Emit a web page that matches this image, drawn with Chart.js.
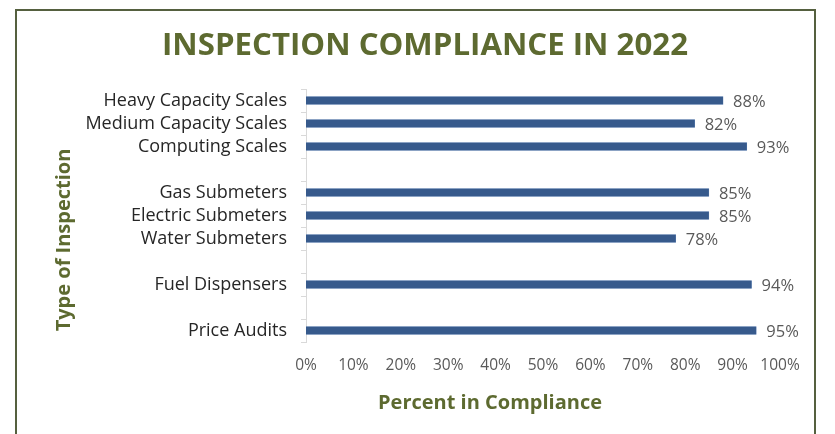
<!DOCTYPE html>
<html>
<head>
<meta charset="utf-8">
<script src="https://cdn.jsdelivr.net/npm/chart.js@4"></script>
<style>
  html, body { margin: 0; padding: 0; background: #fff; }
  #wrap { position: relative; width: 835px; height: 434px; overflow: hidden; }
  #frame { position: absolute; left: 15px; top: 9px; width: 801px; height: 440px; border: 2px solid #55603f; box-sizing: border-box; }
  canvas { position: absolute; left: 0; top: 0; }
</style>
</head>
<body>
<div id="wrap">
  <div id="frame"></div>
  <canvas id="chart" width="835" height="434"></canvas>
</div>
<script>
const categories = [
  "Heavy Capacity Scales",
  "Medium Capacity Scales",
  "Computing Scales",
  "",
  "Gas Submeters",
  "Electric Submeters",
  "Water Submeters",
  "",
  "Fuel Dispensers",
  "",
  "Price Audits",
];
const compliance = [88, 82, 93, null, 85, 85, 78, null, 94, null, 95];
const xTicks = [0, 10, 20, 30, 40, 50, 60, 70, 80, 90, 100];

const titleText = "INSPECTION COMPLIANCE IN 2022";
const xTitle = "Percent in Compliance";
const yTitle = "Type of Inspection";
const olive = "#5d6a30";

const textPlugin = {
  id: "texts",
  afterDatasetsDraw(chart) {
    const ctx = chart.ctx;
    const meta = chart.getDatasetMeta(0);
    ctx.save();
    ctx.fillStyle = "#595959";
    ctx.font = "16.5px 'Open Sans'";
    ctx.textAlign = "left";
    ctx.textBaseline = "middle";
    meta.data.forEach((bar, i) => {
      const v = compliance[i];
      if (v === null) return;
      ctx.fillText(v + "%", bar.x + 10, bar.y + 1.5);
    });

    ctx.fillStyle = olive;
    ctx.textAlign = "center";
    ctx.textBaseline = "middle";
    ctx.font = "bold 31px 'Liberation Sans Narrow', 'Open Sans'";
    const w = ctx.measureText(titleText).width;
    const target = 526;
    ctx.save();
    ctx.translate(425, 46);
    ctx.scale(target / w, 1);
    ctx.fillText(titleText, 0, 0);
    ctx.restore();

    ctx.font = "bold 20px 'Open Sans'";
    ctx.fillText(xTitle, 490, 403);
    ctx.save();
    ctx.translate(64, 240);
    ctx.rotate(-Math.PI / 2);
    ctx.fillText(yTitle, 0, 0);
    ctx.restore();
    ctx.restore();
  },
};

new Chart(document.getElementById("chart"), {
  type: "bar",
  data: {
    labels: categories,
    datasets: [
      {
        data: compliance,
        backgroundColor: "#375a8c",
        borderColor: "#5a7db0",
        borderWidth: 0.5,
        barThickness: 8,
      },
    ],
  },
  options: {
    indexAxis: "y",
    responsive: false,
    animation: false,
    layout: { padding: { left: 0, right: 55, top: 89, bottom: 52 } },
    plugins: { legend: { display: false }, tooltip: { enabled: false } },
    scales: {
      x: {
        min: 0,
        max: 100,
        afterFit: (s) => { s.height = 40; },
        afterBuildTicks: (s) => { s.ticks = xTicks.map((v) => ({ value: v })); },
        grid: { display: false, drawTicks: false },
        border: { display: false },
        ticks: {
          padding: 14,
          autoSkip: false,
          maxRotation: 0,
          color: "#595959",
          font: { family: "'Open Sans'", size: 15.5 },
          callback: (v) => v + "%",
        },
      },
      y: {
        afterFit: (s) => { s.width = 306; },
        grid: { drawOnChartArea: false, tickLength: 5, color: "#d9d9d9", offset: true },
        border: { color: "#d9d9d9", width: 1 },
        ticks: {
          padding: 14,
          autoSkip: false,
          color: "#262626",
          font: { family: "'Open Sans'", size: 18 },
        },
      },
    },
  },
  plugins: [textPlugin],
});
</script>
</body>
</html>
